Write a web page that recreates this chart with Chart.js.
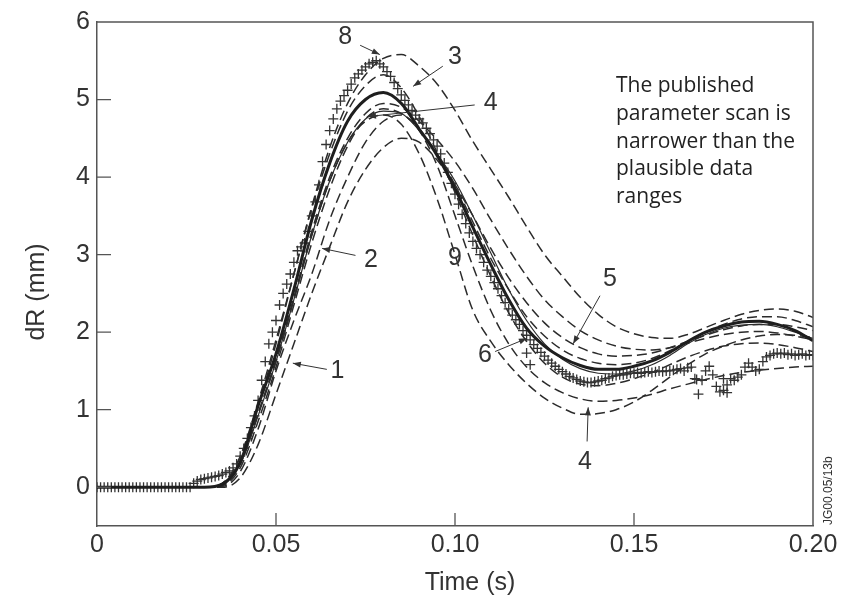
<!DOCTYPE html>
<html>
<head>
<meta charset="utf-8">
<title>dR parameter scan</title>
<script src="https://cdn.jsdelivr.net/npm/chart.js@4.4.1/dist/chart.umd.min.js"></script>
<style>
  html, body { margin: 0; padding: 0; background: #fff; }
</style>
</head>
<body>
<canvas id="chart" width="844" height="607"></canvas>
<script>
// ----------------- values --------------------------------------------//

const xTicks = [0, 0.05, 0.10, 0.15, 0.20]
const yTicks = [0, 1, 2, 3, 4, 5, 6]

// common time grid for the model curves (s)
const timeGrid = [0, 0.030, 0.035, 0.040, 0.045, 0.050, 0.055, 0.060, 0.065, 0.070,
  0.075, 0.080, 0.085, 0.090, 0.095, 0.100, 0.105, 0.110, 0.115, 0.120,
  0.125, 0.130, 0.135, 0.140, 0.145, 0.150, 0.155, 0.160, 0.165, 0.170,
  0.175, 0.180, 0.185, 0.190, 0.195, 0.200]

// best fit (thick solid line)
const fitDR = [0, 0, 0.04, 0.32, 1.05, 1.72, 2.55, 3.45, 4.18, 4.72,
  5.0, 5.09, 4.95, 4.62, 4.28, 3.85, 3.35, 2.87, 2.42, 2.05,
  1.82, 1.67, 1.57, 1.52, 1.52, 1.56, 1.63, 1.74, 1.88, 2.0,
  2.08, 2.13, 2.14, 2.1, 2.02, 1.89]

// scan curves (dashed), numbered as in the figure
const curve1 = [0, 0, 0, 0.12, 0.55, 1.2, 1.85, 2.5, 3.1, 3.68,
  4.1, 4.38, 4.5, 4.45, 4.22, 3.9, 3.5, 3.08, 2.7, 2.38,
  2.12, 1.93, 1.8, 1.72, 1.69, 1.7, 1.73, 1.8, 1.88, 1.96,
  2.03, 2.08, 2.1, 2.1, 2.07, 2.02]
const curve2 = [0, 0, 0.01, 0.2, 0.75, 1.5, 2.15, 2.75, 3.45, 4.0,
  4.45, 4.72, 4.8, 4.62, 4.3, 3.9, 3.42, 2.95, 2.55, 2.2,
  1.95, 1.77, 1.66, 1.6, 1.58, 1.6, 1.66, 1.76, 1.88, 2.0,
  2.1, 2.17, 2.2, 2.2, 2.15, 2.07]
const curve3 = [0, 0, 0.05, 0.38, 1.05, 1.85, 2.75, 3.62, 4.38, 4.95,
  5.32, 5.53, 5.58, 5.43, 5.2, 4.86, 4.46, 4.1, 3.74, 3.36,
  3.0, 2.72, 2.45, 2.23, 2.07, 1.98, 1.93, 1.92, 1.97, 2.06,
  2.15, 2.23, 2.28, 2.3, 2.27, 2.19]
const curve4 = [0, 0, 0.03, 0.3, 0.95, 1.62, 2.42, 3.25, 3.95, 4.45,
  4.72, 4.8, 4.68, 4.3, 3.72, 3.0, 2.28, 1.88, 1.58, 1.34,
  1.15, 1.02, 0.94, 0.95, 1.0, 1.1, 1.25, 1.42, 1.58, 1.72,
  1.82, 1.9, 1.95, 1.97, 1.96, 1.93]
const curve5 = [0, 0, 0.03, 0.3, 0.95, 1.65, 2.45, 3.3, 4.0, 4.5,
  4.82, 4.95, 4.9, 4.72, 4.48, 4.2, 3.85, 3.45, 3.07, 2.72,
  2.42, 2.2, 2.02, 1.9, 1.82, 1.78, 1.77, 1.8, 1.86, 1.92,
  1.97, 2.0, 2.01, 1.99, 1.95, 1.9]
const curve6 = [0, 0, 0.02, 0.25, 0.85, 1.55, 2.35, 3.15, 3.85, 4.4,
  4.75, 4.88, 4.82, 4.6, 4.15, 3.5, 2.85, 2.28, 1.85, 1.55,
  1.35, 1.22, 1.14, 1.11, 1.12, 1.15, 1.2, 1.27, 1.33, 1.39,
  1.44, 1.48, 1.51, 1.53, 1.55, 1.56]
const curve8 = [0, 0, 0.05, 0.4, 1.1, 1.9, 2.75, 3.6, 4.3, 4.85,
  5.18, 5.32, 5.15, 4.78, 4.32, 3.8, 3.25, 2.72, 2.25, 1.88,
  1.6, 1.42, 1.33, 1.31, 1.34, 1.4, 1.48, 1.58, 1.68, 1.76,
  1.82, 1.85, 1.86, 1.84, 1.8, 1.75]
// thin solid curve
const curve9 = [0, 0, 0.03, 0.3, 0.92, 1.62, 2.42, 3.25, 3.95, 4.45,
  4.75, 4.85, 4.82, 4.6, 4.3, 3.95, 3.5, 3.02, 2.55, 2.15,
  1.85, 1.65, 1.53, 1.47, 1.46, 1.5, 1.58, 1.7, 1.85, 1.97,
  2.05, 2.09, 2.1, 2.07, 2.0, 1.92]

// measured data (crosses)
const dataTime = [
  0.000, 0.001, 0.002, 0.003, 0.004, 0.005, 0.006, 0.007, 0.008, 0.009,
  0.010, 0.011, 0.012, 0.013, 0.014, 0.015, 0.016, 0.017, 0.018, 0.019,
  0.020, 0.021, 0.022, 0.023, 0.024, 0.025, 0.026, 0.027, 0.028, 0.029,
  0.030, 0.031, 0.032, 0.033, 0.034, 0.035, 0.036, 0.037, 0.038, 0.039,
  0.040, 0.041, 0.042, 0.043, 0.044, 0.045, 0.046, 0.047, 0.048, 0.049,
  0.050, 0.051, 0.052, 0.053, 0.054, 0.055, 0.056, 0.057, 0.058, 0.059,
  0.060, 0.061, 0.062, 0.063, 0.064, 0.065, 0.066, 0.067, 0.068, 0.069,
  0.070, 0.071, 0.072, 0.073, 0.074, 0.075, 0.076, 0.077, 0.078, 0.079,
  0.080, 0.081, 0.082, 0.083, 0.084, 0.085, 0.086, 0.087, 0.088, 0.089,
  0.090, 0.091, 0.092, 0.093, 0.094, 0.095, 0.096, 0.097, 0.098, 0.099,
  0.100, 0.101, 0.102, 0.103, 0.104, 0.105, 0.106, 0.107, 0.108, 0.109,
  0.110, 0.111, 0.112, 0.113, 0.114, 0.115, 0.116, 0.117, 0.118, 0.119,
  0.120, 0.121, 0.122, 0.123, 0.124, 0.125, 0.126, 0.127, 0.128, 0.129,
  0.130, 0.131, 0.132, 0.133, 0.134, 0.135, 0.136, 0.137, 0.138, 0.139,
  0.140, 0.141, 0.142, 0.143, 0.144, 0.145, 0.146, 0.147, 0.148, 0.149,
  0.150, 0.151, 0.152, 0.153, 0.154, 0.155, 0.156, 0.157, 0.158, 0.159,
  0.160, 0.161, 0.162, 0.163, 0.164, 0.165, 0.166, 0.167, 0.168, 0.169,
  0.170, 0.171, 0.172, 0.173, 0.174, 0.175, 0.176, 0.177, 0.178, 0.179,
  0.180, 0.181, 0.182, 0.183, 0.184, 0.185, 0.186, 0.187, 0.188, 0.189,
  0.190, 0.191, 0.192, 0.193, 0.194, 0.195, 0.196, 0.197, 0.198, 0.199,
  0.200,
  0.120, 0.121, 0.1675, 0.175, 0.176
]
const dataDR = [
  0, 0, 0, 0, 0, 0, 0, 0, 0, 0,
  0, 0, 0, 0, 0, 0, 0, 0, 0, 0,
  0, 0, 0, 0, 0, 0, 0, 0.05, 0.08, 0.1,
  0.11, 0.12, 0.13, 0.14, 0.15, 0.17, 0.19, 0.21, 0.25, 0.3,
  0.4, 0.5, 0.63, 0.77, 0.92, 1.12, 1.38, 1.62, 1.85, 2.0,
  2.15, 2.35, 2.5, 2.62, 2.75, 2.9, 3.05, 3.1, 3.15, 3.3,
  3.5, 3.68, 3.9, 4.2, 4.42, 4.6, 4.75, 4.88, 4.98, 5.05,
  5.12, 5.2, 5.28, 5.33, 5.38, 5.42, 5.46, 5.48, 5.5, 5.46,
  5.42, 5.36, 5.3, 5.22, 5.14, 5.06, 4.99, 4.93, 4.86, 4.8,
  4.75, 4.7, 4.63, 4.56, 4.48, 4.4, 4.3, 4.18, 4.06, 3.92,
  3.78, 3.65, 3.52, 3.4, 3.28, 3.17, 3.08, 3.0, 2.9, 2.8,
  2.72, 2.64, 2.56, 2.47, 2.38, 2.3, 2.22, 2.16, 2.1, 2.02,
  1.96, 1.9, 1.84, 1.79, 1.74, 1.69, 1.64, 1.6, 1.56, 1.52,
  1.49, 1.46, 1.43, 1.41, 1.39, 1.37, 1.36, 1.35, 1.35, 1.36,
  1.37, 1.38, 1.4, 1.41, 1.43, 1.44, 1.45, 1.45, 1.46, 1.47,
  1.47, 1.48, 1.47, 1.48, 1.49, 1.48, 1.49, 1.5, 1.49, 1.5,
  1.5, 1.51, 1.52, 1.53, 1.5, 1.54, 1.55, 1.4, 1.2, 1.38,
  1.5, 1.56, 1.45, 1.3, 1.23, 1.25, 1.32, 1.4, 1.38, 1.42,
  1.45, 1.55, 1.6, 1.55, 1.5, 1.52, 1.62, 1.68, 1.7, 1.72,
  1.73, 1.72, 1.73, 1.71, 1.72, 1.7, 1.71, 1.72, 1.7, 1.71,
  1.7,
  1.73, 1.58, 1.39, 1.4, 1.22
]

// curve labels: text, position, arrow start and arrow tip (data units)
const curveNotes = [
  { text: '8', t: 0.0693, r: 5.80, from: [0.0735, 5.70], to: [0.0790, 5.58] },
  { text: '3', t: 0.1000, r: 5.55, from: [0.0966, 5.43], to: [0.0883, 5.17] },
  { text: '4', t: 0.1100, r: 4.96, from: [0.1055, 4.93], to: [0.0757, 4.78] },
  { text: '2', t: 0.0765, r: 2.93, from: [0.0722, 2.99], to: [0.0629, 3.08] },
  { text: '1', t: 0.0672, r: 1.50, from: [0.0642, 1.52], to: [0.0547, 1.60] },
  { text: '9', t: 0.1000, r: 2.95 },
  { text: '5', t: 0.1433, r: 2.68, from: [0.1405, 2.47], to: [0.1330, 1.85] },
  { text: '6', t: 0.1084, r: 1.70, from: [0.1112, 1.75], to: [0.1201, 1.92] },
  { text: '4', t: 0.1363, r: 0.32, from: [0.1369, 0.59], to: [0.1372, 1.03] },
]

const noteLines = ['The published', 'parameter scan is', 'narrower than the', 'plausible data', 'ranges']

// ----------------- chart ------------------------//

const ink = '#2b2b2b'
const labelFont = '25px "Liberation Sans", Arial, sans-serif'

const toPoints = (ts, rs) => ts.map((t, i) => ({ x: t, y: rs[i] }))

const dashedCurve = (label, values) => ({
  label: label,
  data: toPoints(timeGrid, values),
  borderColor: ink,
  borderWidth: 1.5,
  borderDash: [10, 5],
  pointRadius: 0,
  cubicInterpolationMode: 'monotone',
  fill: false,
  order: 3,
})

// frame, inward ticks, curve labels and the side notes
const figureDecor = {
  id: 'figureDecor',
  afterDatasetsDraw(chart) {
    const { ctx, chartArea: a, scales } = chart
    const xs = scales.x
    const ys = scales.y
    ctx.save()

    // top and right edges of the box
    ctx.strokeStyle = '#555'
    ctx.lineWidth = 1.5
    ctx.beginPath()
    ctx.moveTo(a.left, a.top)
    ctx.lineTo(a.right, a.top)
    ctx.lineTo(a.right, a.bottom)
    ctx.stroke()

    // tick marks pointing into the plot
    ctx.lineWidth = 1.3
    ctx.beginPath()
    xTicks.slice(1, -1).forEach((v) => {
      const px = xs.getPixelForValue(v)
      ctx.moveTo(px, a.bottom)
      ctx.lineTo(px, a.bottom - 13)
    })
    yTicks.slice(0, -1).forEach((v) => {
      const py = ys.getPixelForValue(v)
      ctx.moveTo(a.left, py)
      ctx.lineTo(a.left + 14, py)
    })
    ctx.stroke()

    // numbers beside the curves, with arrows
    ctx.fillStyle = '#333'
    ctx.strokeStyle = '#333'
    ctx.lineWidth = 1
    ctx.font = labelFont
    ctx.textAlign = 'center'
    ctx.textBaseline = 'middle'
    curveNotes.forEach((n) => {
      ctx.fillText(n.text, xs.getPixelForValue(n.t), ys.getPixelForValue(n.r))
      if (!n.from) return
      const x0 = xs.getPixelForValue(n.from[0])
      const y0 = ys.getPixelForValue(n.from[1])
      const x1 = xs.getPixelForValue(n.to[0])
      const y1 = ys.getPixelForValue(n.to[1])
      ctx.beginPath()
      ctx.moveTo(x0, y0)
      ctx.lineTo(x1, y1)
      ctx.stroke()
      const ang = Math.atan2(y1 - y0, x1 - x0)
      ctx.beginPath()
      ctx.moveTo(x1, y1)
      ctx.lineTo(x1 - 8 * Math.cos(ang) + 3 * Math.sin(ang), y1 - 8 * Math.sin(ang) - 3 * Math.cos(ang))
      ctx.lineTo(x1 - 8 * Math.cos(ang) - 3 * Math.sin(ang), y1 - 8 * Math.sin(ang) + 3 * Math.cos(ang))
      ctx.closePath()
      ctx.fill()
    })

    // axis titles
    ctx.fillStyle = '#333'
    ctx.font = labelFont
    ctx.fillText('Time (s)', 470, 583)
    ctx.save()
    ctx.translate(37, 292)
    ctx.rotate(-Math.PI / 2)
    ctx.fillText('dR (mm)', 0, 0)
    ctx.restore()

    // note in the upper right
    ctx.fillStyle = '#222'
    ctx.font = '21px "Open Sans", sans-serif'
    ctx.textAlign = 'left'
    ctx.textBaseline = 'alphabetic'
    noteLines.forEach((line, i) => {
      ctx.fillText(line, 616, 92 + i * 27.8)
    })

    // figure code, vertical along the right edge
    ctx.save()
    ctx.translate(832, 525)
    ctx.rotate(-Math.PI / 2)
    ctx.font = '12px "Liberation Sans", Arial, sans-serif'
    ctx.fillStyle = '#333'
    ctx.fillText('JG00.05/13b', 0, 0)
    ctx.restore()

    ctx.restore()
  },
}

const tickFont = { family: '"Liberation Sans", Arial, sans-serif', size: 25 }

const chart = new Chart(document.getElementById('chart'), {
  type: 'line',
  data: {
    datasets: [
      {
        label: 'Fit',
        data: toPoints(timeGrid, fitDR),
        borderColor: '#1e1e1e',
        borderWidth: 3,
        pointRadius: 0,
        cubicInterpolationMode: 'monotone',
        fill: false,
        order: 0,
      },
      {
        label: 'Data',
        type: 'scatter',
        data: toPoints(dataTime, dataDR),
        showLine: false,
        pointStyle: 'cross',
        pointRadius: 5,
        borderColor: '#333',
        borderWidth: 1.3,
        order: 1,
      },
      {
        label: '9',
        data: toPoints(timeGrid, curve9),
        borderColor: ink,
        borderWidth: 1.2,
        pointRadius: 0,
        cubicInterpolationMode: 'monotone',
        fill: false,
        order: 2,
      },
      dashedCurve('1', curve1),
      dashedCurve('2', curve2),
      dashedCurve('3', curve3),
      dashedCurve('4', curve4),
      dashedCurve('5', curve5),
      dashedCurve('6', curve6),
      dashedCurve('8', curve8),
    ],
  },
  options: {
    responsive: false,
    animation: false,
    layout: { padding: { left: 0, right: 31, top: 13, bottom: 0 } },
    plugins: {
      legend: { display: false },
      tooltip: { enabled: false },
    },
    scales: {
      x: {
        type: 'linear',
        min: 0,
        max: 0.2,
        afterBuildTicks: (s) => { s.ticks = xTicks.map((v) => ({ value: v })) },
        afterFit: (s) => { s.height = 81 },
        ticks: {
          callback: (v) => (v === 0 ? '0' : v.toFixed(2)),
          font: tickFont,
          color: '#333',
          padding: 4,
          maxRotation: 0,
          autoSkip: false,
        },
        grid: { display: false, drawTicks: false },
        border: { display: true, color: '#555', width: 1.5 },
      },
      y: {
        type: 'linear',
        min: -0.5,
        max: 6,
        afterBuildTicks: (s) => { s.ticks = yTicks.map((v) => ({ value: v })) },
        afterFit: (s) => { s.width = 97 },
        ticks: {
          callback: (v) => String(v),
          font: tickFont,
          color: '#333',
          padding: 7,
        },
        grid: { display: false, drawTicks: false },
        border: { display: true, color: '#555', width: 1.5 },
      },
    },
  },
  plugins: [figureDecor],
})
</script>
</body>
</html>
